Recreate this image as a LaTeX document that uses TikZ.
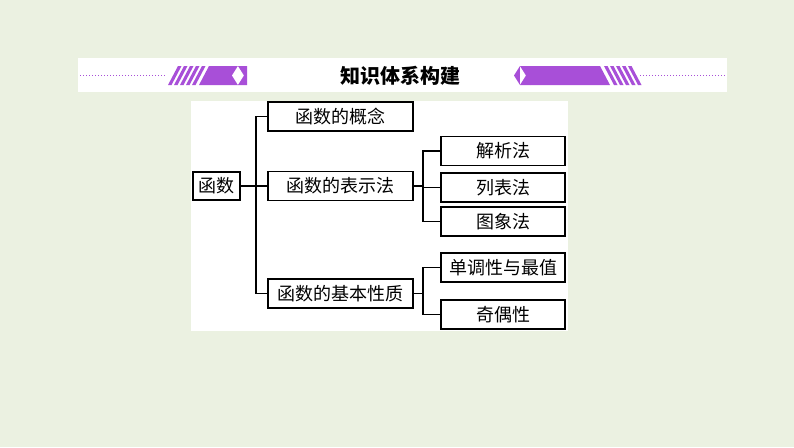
\documentclass[tikz,border=0pt]{standalone}
\usepackage{fontspec}
\newfontfamily\cjk{Noto Sans CJK SC}
\newfontfamily\cjkb{Noto Sans CJK SC Black}
\definecolor{bg}{HTML}{EBF1E1}
\definecolor{pur}{HTML}{A84FD8}
\begin{document}
\begin{tikzpicture}[x=1pt,y=-1pt,
  bx/.style={draw,line width=1.2pt,fill=white,inner sep=0pt,font=\cjk\fontsize{18}{18}\selectfont},
  ln/.style={line width=1.2pt}]
\fill[bg] (0,0) rectangle (794,447);
\useasboundingbox (0,0) rectangle (794,447);
% header
\fill[white] (78,58) rectangle (727,92);
\draw[pur,dotted,line width=1pt] (80,75) -- (165,75);
\draw[pur,dotted,line width=1pt] (640,75) -- (725,75);
\foreach \i in {0,...,4}{\fill[pur] ({178+\i*6},66) -- ({181.5+\i*6},66) -- ({171.5+\i*6},85) -- ({168+\i*6},85) -- cycle;}
\fill[pur] (209,66) -- (238,66) -- (238,85) -- (199,85) -- cycle;
\fill[white] (238,66) -- (232,75.5) -- (238,85) -- (244,75.5) -- cycle;
\fill[pur] (238,66) -- (244,75.5) -- (238,85) -- (247,85) -- (247,66) -- cycle;
\fill[pur] (530,66) -- (600,66) -- (610,85) -- (530,85) -- cycle;
\fill[pur] (520,66) -- (514,75.5) -- (520,85) -- cycle;
\fill[white] (520,66) -- (526,75.5) -- (520,85) -- cycle;
\fill[pur] (520,66) -- (526,75.5) -- (520,85) -- (530,85) -- (530,66) -- cycle;
\foreach \i in {0,...,4}{\fill[pur] ({604+\i*6},66) -- ({607.5+\i*6},66) -- ({617.5+\i*6},85) -- ({614+\i*6},85) -- cycle;}
\node[font=\cjkb\fontsize{20}{20}\selectfont] (title) at (400,76) {知识体系构建};
% panel
\fill[white] (191,101) rectangle (568,331);
\node[bx,minimum width=47pt,minimum height=28pt] (root) at (216.5,186) {函数};
\foreach \n/\y/\t in {a/116.5/函数的概念, b/186/函数的表示法, c/293.5/函数的基本性质}
  \node[bx,minimum width=145pt,minimum height=29pt] (\n) at (340.5,\y) {\t};
\foreach \n/\y/\t in {b1/151/解析法, b2/187.5/列表法, b3/221.5/图象法, c1/267.5/单调性与最值, c2/314.5/奇偶性}
  \node[bx,minimum width=124pt,minimum height=29pt] (\n) at (503,\y) {\t};
\coordinate (j1) at (256,186);
\draw[ln] (root.east) -- (j1);
\draw[ln] (a.west) -| (j1) |- (c.west);
\draw[ln] (j1) -- (b.west);
\coordinate (j2) at (423,186);
\draw[ln] (b.east) -- (j2);
\draw[ln] (b1.west) -| (j2) |- (b3.west);
\draw[ln] (423,187.5) -- (b2.west);
\coordinate (j3) at (423,293.5);
\draw[ln] (c.east) -- (j3);
\draw[ln] (c1.west) -| (j3) |- (c2.west);
\end{tikzpicture}
\end{document}
